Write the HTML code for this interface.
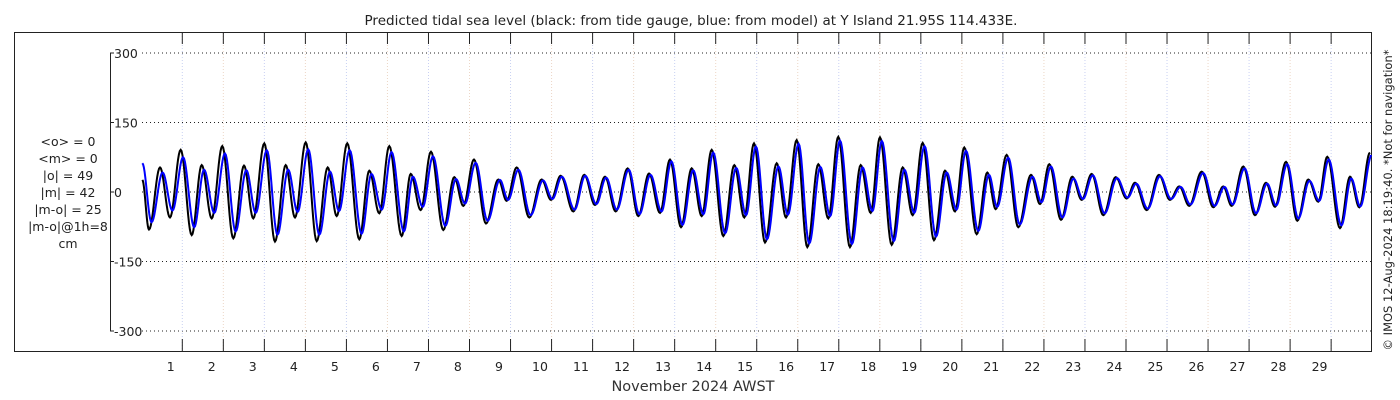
<!DOCTYPE html>
<html><head><meta charset="utf-8"><style>
html,body{margin:0;padding:0;background:#fff;}
svg{display:block;font-family:"DejaVu Sans","Liberation Sans",sans-serif;}
</style></head><body>
<svg id="chart" width="1400" height="400" viewBox="0 0 1400 400">
<text x="691" y="25" font-size="13.5" text-anchor="middle" fill="#222">Predicted tidal sea level (black: from tide gauge, blue: from model) at Y Island 21.95S 114.433E.</text>
<rect x="14.5" y="32.5" width="1357" height="319" fill="none" stroke="#222" stroke-width="1"/>
<g id="grid"></g>
<g id="series"></g>
<g id="axes"></g>
<g font-size="12.5" fill="#222" text-anchor="middle">
<text x="68" y="146">&lt;o&gt; = 0</text>
<text x="68" y="163">&lt;m&gt; = 0</text>
<text x="68" y="180">|o| = 49</text>
<text x="68" y="197">|m| = 42</text>
<text x="68" y="214">|m-o| = 25</text>
<text x="68" y="231">|m-o|@1h=8</text>
<text x="68" y="248">cm</text>
</g>
<text x="693" y="391" font-size="14.5" text-anchor="middle" fill="#333">November 2024 AWST</text>
<text transform="translate(1392,200) rotate(-90)" font-size="11.5" text-anchor="middle" fill="#222">© IMOS 12-Aug-2024 18:19:40. *Not for navigation*</text>
</svg>
<script>
const yTicks = [300, 150, 0, -150, -300];
const dayLabels = [1,2,3,4,5,6,7,8,9,10,11,12,13,14,15,16,17,18,19,20,21,22,23,24,25,26,27,28,29];
const obsTimes = [0.025,0.188,0.457,0.700,0.961,1.229,1.473,1.717,1.975,2.243,2.504,2.730,2.999,3.259,3.520,3.747,4.008,4.276,4.544,4.763,5.021,5.314,5.558,5.801,6.045,6.347,6.567,6.810,7.061,7.361,7.629,7.849,8.109,8.402,8.702,8.906,9.150,9.457,9.759,9.986,10.222,10.530,10.798,11.058,11.302,11.563,11.855,12.114,12.375,12.643,12.886,13.155,13.415,13.659,13.903,14.186,14.454,14.697,14.934,15.202,15.487,15.714,15.974,16.233,16.501,16.745,16.988,17.273,17.534,17.778,18.004,18.290,18.558,18.801,19.045,19.320,19.589,19.832,20.059,20.361,20.620,20.824,21.092,21.375,21.685,21.904,22.131,22.416,22.691,22.920,23.164,23.447,23.749,24.017,24.219,24.505,24.804,25.072,25.299,25.542,25.845,26.128,26.371,26.576,26.859,27.144,27.412,27.632,27.900,28.175,28.443,28.687,28.906,29.216,29.460,29.687,29.947];
const obsValues = [26,-81,53,-55,91,-93,58,-57,99,-100,57,-57,105,-107,58,-55,107,-106,53,-52,105,-102,46,-46,99,-95,39,-39,87,-82,32,-30,70,-68,27,-19,53,-55,27,-17,35,-42,37,-28,33,-42,51,-52,40,-45,70,-76,51,-52,91,-95,58,-55,105,-109,62,-55,112,-119,60,-57,119,-119,58,-45,118,-114,53,-50,106,-104,46,-42,96,-91,42,-37,80,-76,37,-26,60,-60,33,-17,39,-50,32,-14,20,-39,37,-17,12,-30,44,-33,12,-30,55,-50,20,-32,65,-62,27,-21,76,-78,33,-33,85];
const modelTimes = [0.025,0.250,0.520,0.760,1.020,1.290,1.530,1.780,2.040,2.300,2.560,2.790,3.060,3.320,3.580,3.810,4.070,4.340,4.600,4.820,5.080,5.370,5.610,5.860,6.100,6.400,6.620,6.860,7.110,7.410,7.670,7.890,8.150,8.440,8.740,8.940,9.190,9.490,9.790,10.020,10.250,10.560,10.820,11.090,11.330,11.590,11.880,12.140,12.410,12.680,12.920,13.190,13.450,13.700,13.940,14.230,14.500,14.740,14.980,15.250,15.530,15.760,16.020,16.280,16.550,16.790,17.030,17.320,17.580,17.820,18.050,18.340,18.600,18.840,19.090,19.370,19.630,19.870,20.100,20.400,20.660,20.860,21.130,21.410,21.720,21.940,22.170,22.450,22.720,22.950,23.190,23.480,23.780,24.040,24.250,24.530,24.830,25.100,25.330,25.570,25.880,26.160,26.400,26.600,26.890,27.170,27.440,27.660,27.930,28.200,28.470,28.710,28.940,29.250,29.490,29.710,29.990];
const modelValues = [62,-65,42,-40,75,-76,48,-45,83,-85,47,-45,90,-92,48,-43,92,-92,44,-41,90,-90,39,-38,86,-85,33,-32,77,-73,28,-25,63,-62,26,-17,48,-50,25,-15,33,-38,35,-26,31,-38,48,-48,37,-42,66,-71,47,-48,85,-89,52,-50,98,-102,55,-49,104,-111,54,-52,111,-112,53,-41,110,-106,48,-45,99,-96,42,-38,89,-84,37,-32,74,-70,33,-22,55,-55,29,-15,36,-46,30,-12,18,-36,34,-15,11,-27,41,-30,11,-27,51,-46,18,-29,60,-57,24,-19,70,-72,29,-31,80];

const X0 = 182.3, DX = 41.03, Y0 = 192, KY = 69.5/150;
const xs = t => X0 + (t - 1) * DX;
const ys = v => Y0 - v * KY;
const NS = 'http://www.w3.org/2000/svg';
function mk(tag, attrs, parent) {
  const el = document.createElementNS(NS, tag);
  for (const k in attrs) el.setAttribute(k, attrs[k]);
  parent.appendChild(el);
  return el;
}
const grid = document.getElementById('grid');
const axes = document.getElementById('axes');
const series = document.getElementById('series');

yTicks.forEach(v => {
  const g = mk('line', {x1: 142, x2: 1371, y1: ys(v), y2: ys(v), stroke: '#222', 'stroke-width': 1, 'stroke-dasharray': '1 3'}, grid);
  
  
  const tk = mk('line', {x1: 110, x2: 114, y1: ys(v), y2: ys(v), stroke: '#222'}, axes);
  
  
  const lb = mk('text', {x: 114, y: ys(v) + 5, 'font-size': 12.5, fill: '#222'}, axes);
  lb.textContent = String(v);
  
  
});
const ya = mk('line', {x1: 110.5, x2: 110.5, y1: ys(300), y2: ys(-300), stroke: '#222'}, axes);



dayLabels.forEach((d, i) => {
  const x = xs(d);
  const gl = mk('line', {x1: x, x2: x, y1: 33, y2: 351, stroke: (i % 2 ? '#ecd6c6' : '#c8d0f2'), 'stroke-width': 1, 'stroke-dasharray': '1 2'}, grid);
  
  
  const t1 = mk('line', {x1: x, x2: x, y1: 32, y2: 44, stroke: '#222'}, axes);
  
  
  const t2 = mk('line', {x1: x, x2: x, y1: 339, y2: 351, stroke: '#222'}, axes);
  
  
  const lb = mk('text', {x: x - 11.6, y: 371, 'font-size': 12.5, fill: '#222', 'text-anchor': 'middle'}, axes);
  lb.textContent = String(d);
  
  
});

function curve(times, vals) {
  let d = 'M' + xs(times[0]).toFixed(2) + ',' + ys(vals[0]).toFixed(2);
  for (let i = 1; i < times.length; i++) {
    const t0 = times[i-1], t1 = times[i], v0 = vals[i-1], v1 = vals[i];
    for (let s = 1; s <= 12; s++) {
      const f = s / 12;
      const t = t0 + (t1 - t0) * f;
      const v = v0 + (v1 - v0) * (1 - Math.cos(Math.PI * f)) / 2;
      d += 'L' + Math.min(xs(t), 1371).toFixed(2) + ',' + ys(v).toFixed(2);
    }
  }
  return d;
}
const obs = mk('path', {d: curve(obsTimes, obsValues), fill: 'none', stroke: '#000', 'stroke-width': 2}, series);


const mod = mk('path', {d: curve(modelTimes, modelValues), fill: 'none', stroke: '#0000ff', 'stroke-width': 2}, series);


</script>
</body></html>
